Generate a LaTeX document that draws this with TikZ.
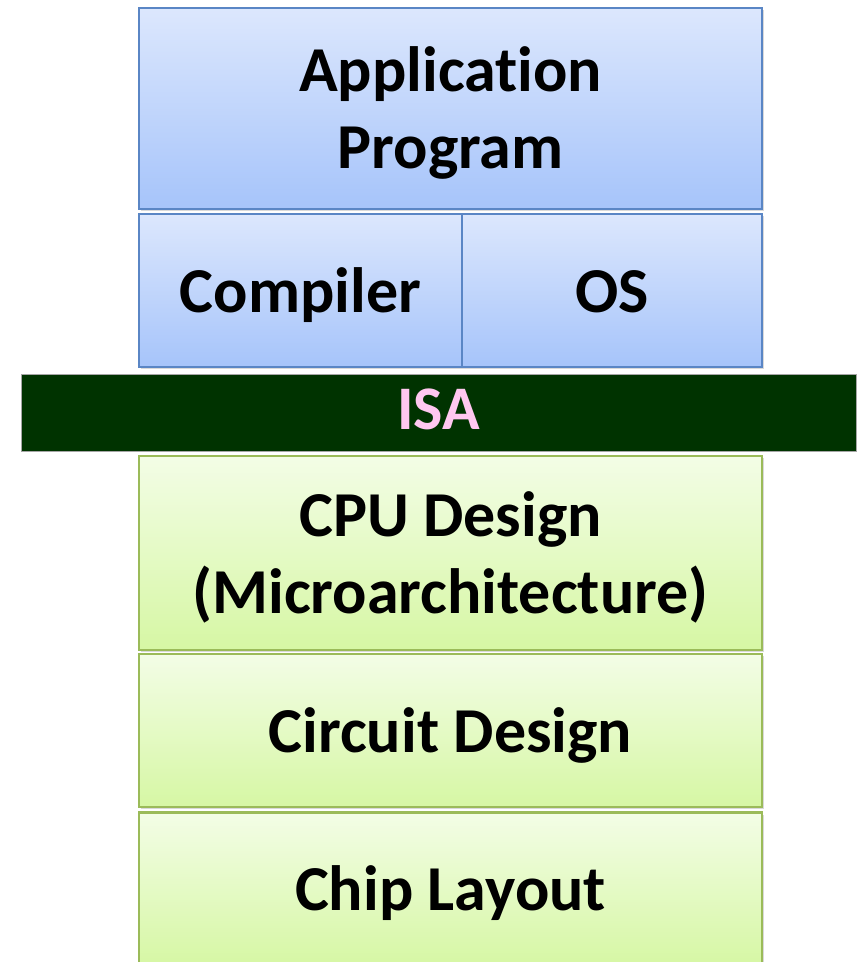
\documentclass[tikz,border=0pt]{standalone}
\usepackage{fontspec}
\setmainfont{Carlito}[Ligatures=NoCommon]
\usetikzlibrary{shadows}

\definecolor{swblue}{HTML}{DCE7FD}
\definecolor{swbluedark}{HTML}{A6C4FA}
\definecolor{swline}{HTML}{5A86C5}
\definecolor{hwgreen}{HTML}{F3FDE6}
\definecolor{hwgreendark}{HTML}{D6F7A4}
\definecolor{hwline}{HTML}{9BBB59}
\definecolor{isagreen}{HTML}{003300}
\definecolor{isapink}{HTML}{FFC8F0}

\tikzset{
  layer/.style={draw, line width=1pt, align=center, inner sep=0pt, text depth=0.5pt,
    font=\fontsize{32}{38.5}\selectfont\bfseries,
    drop shadow={shadow xshift=1.2pt, shadow yshift=-1.2pt, opacity=0.3}},
  swlayer/.style={layer, draw=swline, top color=swblue, bottom color=swbluedark},
  hwlayer/.style={layer, draw=hwline, line width=1.2pt, top color=hwgreen, bottom color=hwgreendark},
}

\begin{document}
\begin{tikzpicture}[x=0.5pt, y=-0.5pt]
    \useasboundingbox (0,0) rectangle (864,962);
    % software side
    \node[swlayer, minimum width=311.5pt, minimum height=100.5pt] (app) at (450.5,108.5)
        {Application\\Program};
    \node[swlayer, minimum width=161.5pt, minimum height=76.5pt] (compiler) at (300.5,290.5)
        {Compiler};
    \node[swlayer, minimum width=150pt, minimum height=76.5pt] (os) at (612,290.5)
        {\vphantom{l}OS};
    %%
    \node[draw=black!35, line width=0.5pt, fill=isagreen, text=isapink,
        minimum width=417.5pt, minimum height=38.5pt, inner sep=0pt,
        text height=17pt, text depth=0pt,
        font=\fontsize{31}{37}\selectfont\bfseries] (isa) at (438.5,412.5) {ISA};
    %%
    % hardware side
    \node[hwlayer, minimum width=311.5pt, minimum height=97pt] (cpu) at (450.5,553)
        {CPU Design\\(Microarchitecture)};
    \node[hwlayer, minimum width=311.5pt, minimum height=76.5pt] (circuit) at (450.5,730.5)
        {Circuit Design};
    \node[hwlayer, minimum width=311.5pt, minimum height=76.5pt] (chip) at (450.5,889)
        {Chip Layout};
  \end{tikzpicture}
\end{document}
